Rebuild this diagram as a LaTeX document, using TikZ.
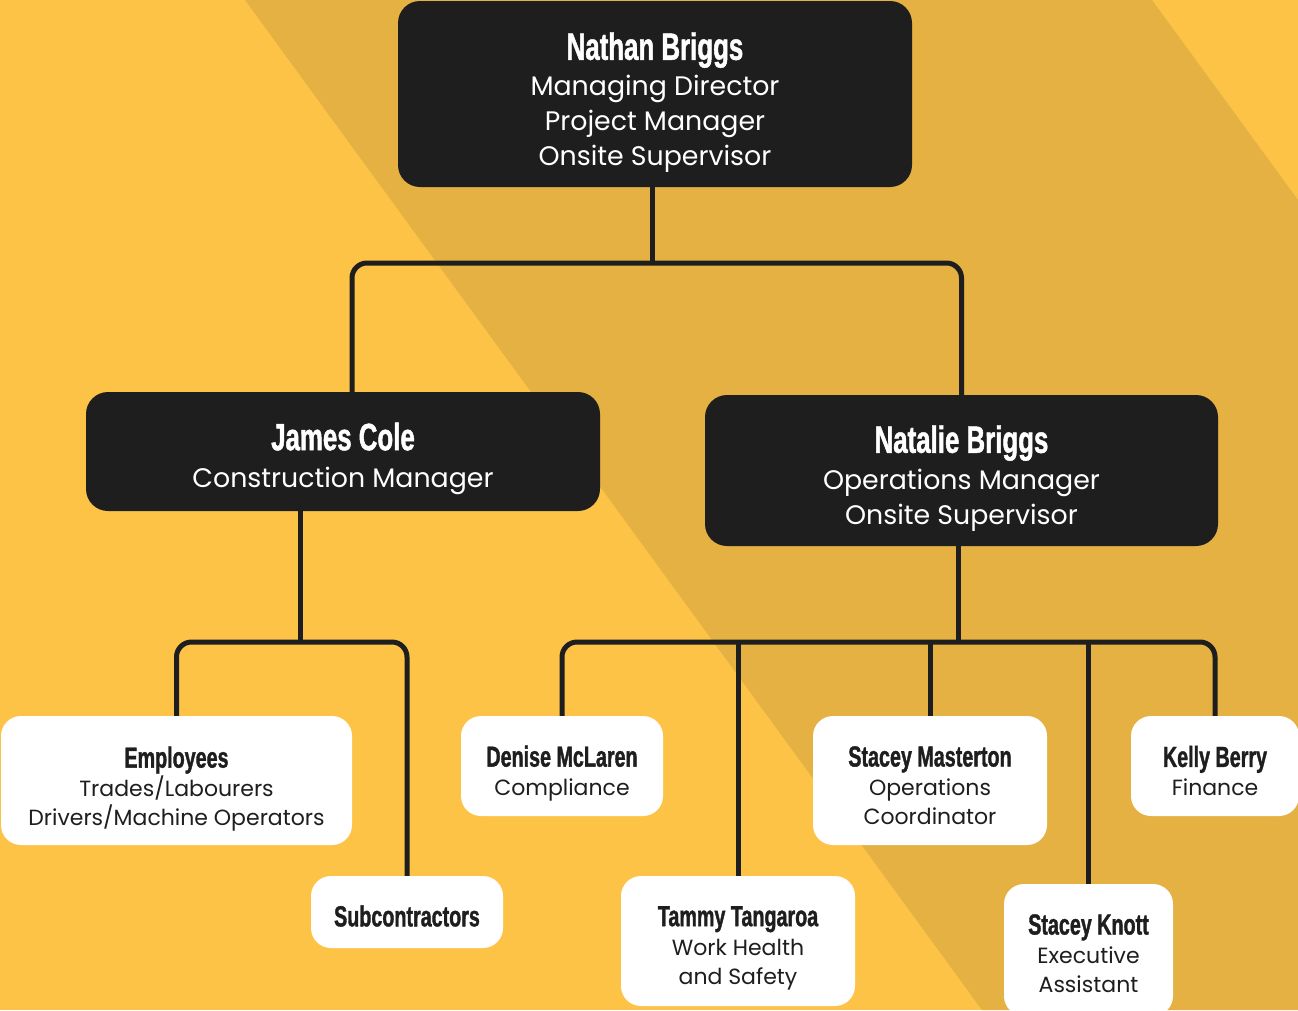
\documentclass[tikz,border=0pt]{standalone}
\usepackage{fontspec}
\setmainfont{Poppins}
\newfontfamily\namefont{Liberation Sans}[FakeStretch=0.68,FakeBold=1.2]
\definecolor{bgyellow}{HTML}{FDC347}
\definecolor{bgband}{HTML}{E4B142}
\definecolor{boxdark}{HTML}{1E1E1E}
\newcommand{\bigname}[1]{{\namefont\bfseries\fontsize{38}{38}\selectfont #1}}
\newcommand{\smallname}[1]{{\namefont\bfseries\fontsize{29}{29}\selectfont #1}}
\tikzset{
  darkbox/.style={fill=boxdark, rounded corners=22pt, inner sep=0pt},
  whitebox/.style={fill=white, rounded corners=20pt, inner sep=0pt},
  darktext/.style={text=white, align=center, inner sep=0pt, font=\fontsize{26.8}{35}\selectfont},
  whitetext/.style={text=boxdark, align=center, inner sep=0pt, font=\fontsize{22}{29}\selectfont},
  link/.style={draw=boxdark, line width=5pt, rounded corners=15pt}
}
\begin{document}
\begin{tikzpicture}[x=1pt,y=-1pt]
\useasboundingbox (0,0) rectangle (1298,1010);
% background
\fill[bgyellow] (0,0) rectangle (1298,1010);
\fill[bgband] (245,0) -- (1152,0) -- (1298,200) -- (1298,1010) -- (982,1010) -- cycle;

% boxes
\node[darkbox, minimum width=514, minimum height=186] (nathan) at (655,94) {};
\node[darkbox, minimum width=514, minimum height=119] (james) at (343,451.5) {};
\node[darkbox, minimum width=513, minimum height=151] (natalie) at (961.5,470.5) {};
\node[whitebox, minimum width=351, minimum height=129] (employees) at (176.5,780.5) {};
\node[whitebox, minimum width=192, minimum height=72] (subcon) at (407,912) {};
\node[whitebox, minimum width=202, minimum height=100] (denise) at (562,766) {};
\node[whitebox, minimum width=234, minimum height=130] (tammy) at (738,941) {};
\node[whitebox, minimum width=234, minimum height=129] (masterton) at (930,780.5) {};
\node[whitebox, minimum width=168, minimum height=100] (kelly) at (1215,766) {};
\node[whitebox, minimum width=169, minimum height=132] (knott) at (1088.5,950) {};

% texts
\node[darktext] (nathan-t) at (655,102.5) {\bigname{Nathan Briggs}\\[1pt] Managing Director\\ Project Manager\\ Onsite Supervisor};
\node[darktext] (james-t) at (343,458.5) {\bigname{James Cole}\\[2pt] Construction Manager};
\node[darktext] (natalie-t) at (961.5,478.5) {\bigname{Natalie Briggs}\\[2pt] Operations Manager\\ Onsite Supervisor};
\node[whitetext] (employees-t) at (176.5,789) {\smallname{Employees}\\ Trades/Labourers\\ Drivers/Machine Operators};
\node[whitetext] (subcon-t) at (407,916) {\smallname{Subcontractors}};
\node[whitetext] (denise-t) at (562,773.5) {\smallname{Denise McLaren}\\ Compliance};
\node[whitetext] (tammy-t) at (738,948) {\smallname{Tammy Tangaroa}\\ Work Health\\ and Safety};
\node[whitetext] (masterton-t) at (930,785.5) {\smallname{Stacey Masterton}\\ Operations\\ Coordinator};
\node[whitetext] (kelly-t) at (1215,771) {\smallname{Kelly Berry}\\ Finance};
\node[whitetext] (knott-t) at (1088.5,953.5) {\smallname{Stacey Knott}\\ Executive\\ Assistant};

% connectors
\coordinate (busA) at (652,263);
\coordinate (busB) at (300,642);
\coordinate (busC) at (958,642);
\draw[link] (busA |- nathan.south) -- (busA);
\draw[link] ([xshift=9pt]james.north) |- (busA) -| (natalie.north);
\draw[link] (busB |- james.south) -- (busB);
\draw[link] (employees.north) |- (busB) -| (subcon.north);
\draw[link] (busC |- natalie.south) -- (busC);
\draw[link] (denise.north) |- (busC) -| (kelly.north);
\draw[link] (tammy.north) -- (tammy.north |- busC);
\draw[link] (masterton.north) -- (masterton.north |- busC);
\draw[link] (knott.north) -- (knott.north |- busC);
\end{tikzpicture}
\end{document}
